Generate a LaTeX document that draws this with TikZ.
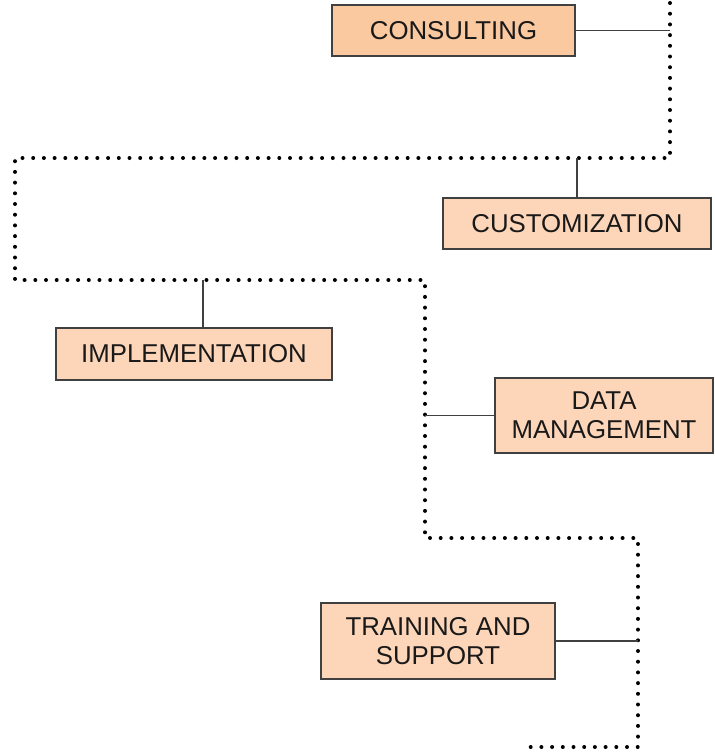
\documentclass[tikz,border=0pt]{standalone}
\usepackage{fontspec}
\setmainfont{Liberation Sans}
\usetikzlibrary{positioning}
\definecolor{phasepeach}{RGB}{251,201,160}
\definecolor{phaselight}{RGB}{253,214,185}

\begin{document}
\begin{tikzpicture}[x=0.5pt,y=-0.5pt, every node/.style={font=\fontsize{12.9}{14.5}\selectfont}]
    \tikzset{phase/.style={draw=black!75,fill=phaselight,line width=0.7pt,inner sep=0pt,align=center,text=black!90}}
    \tikzset{track/.style={line width=2pt,line cap=round,dash pattern=on 0pt off 5.35pt}}
    \tikzset{phaselink/.style={draw=black!75,line width=0.55pt}}
    \useasboundingbox (0,0) rectangle (715,752);

    % corners of the dotted track
    \coordinate (t0) at (670,3);
    \coordinate (t1) at (670,158);
    \coordinate (t2) at (15,158);
    \coordinate (t3) at (15,280);
    \coordinate (t4) at (425,280);
    \coordinate (t5) at (425,538);
    \coordinate (t6) at (638,538);
    \coordinate (t7) at (638,747);
    \coordinate (t8) at (525,747);
    \coordinate (impljoin) at (203,280);

    \draw[track] (t0) -- (t1) -- (t2) -- (t3) -- (t4) -- (t5) -- (t6) -- (t7) -- (t8);

    % phases
    \node[phase,fill=phasepeach,minimum width=121.5pt,minimum height=25.5pt] (consult) at (453.5,30.5) {CONSULTING};
    \node[phase,minimum width=134pt,minimum height=25.5pt] (custom) at (577,223.5) {CUSTOMIZATION};
    \node[phase,minimum width=138pt,minimum height=26pt] (impl) at (194,354) {IMPLEMENTATION};
    \node[phase,minimum width=109pt,minimum height=37.5pt] (data) at (604,415.5) {DATA\\MANAGEMENT};
    \node[phase,minimum width=117pt,minimum height=38pt] (train) at (438,641) {TRAINING AND\\SUPPORT};

    % links to the track
    \draw[phaselink] (consult.east) -- (consult.east -| t1);
    \draw[phaselink] (custom.north) -- (custom.north |- t1);
    \draw[phaselink] (impljoin) -- (impljoin |- impl.north);
    \draw[phaselink] (data.west) -- (data.west -| t4);
    \draw[phaselink] (train.east) -- (train.east -| t6);
\end{tikzpicture}
\end{document}
